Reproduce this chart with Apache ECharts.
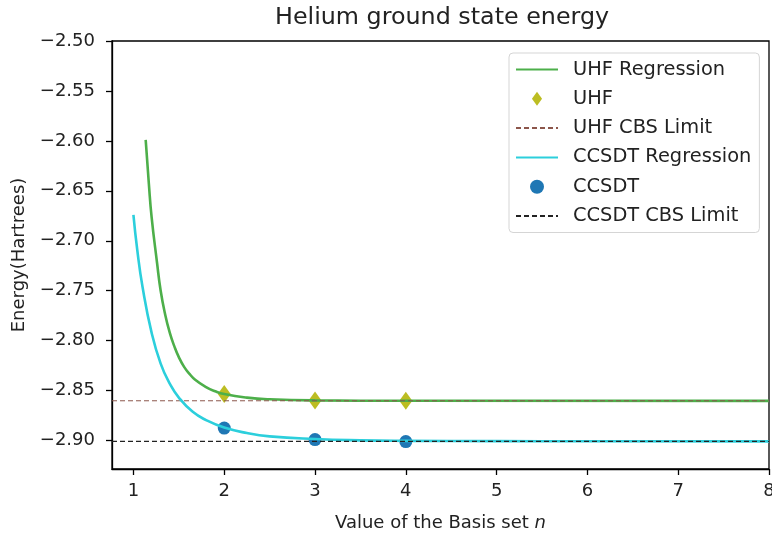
<!DOCTYPE html>
<html>
<head>
<meta charset="utf-8">
<script src="https://cdn.jsdelivr.net/npm/echarts@6.0.0/dist/echarts.min.js"></script>
<style>
  html, body { margin: 0; padding: 0; background: #fff; }
  #chartDiv { width: 772px; height: 533px; }
</style>
</head>
<body>
<div id="chartDiv"></div>
<script>
// 基组 n 与能量（Hartree）
const basisN = [2, 3, 4];
const uhfEnergy = [-2.8535, -2.8600, -2.8602];
const ccsdtEnergy = [-2.8875, -2.8990, -2.9010];
const uhfCbs = -2.8602;
const ccsdtCbs = -2.9008;

// 回归曲线上读出的点
const uhfFitN = [1.135, 1.17, 1.2, 1.26, 1.3, 1.35, 1.4, 1.45, 1.5, 1.56, 1.62, 1.68, 1.8, 1.9, 2.0, 2.25, 2.5, 3.0, 4.0, 8.0];
const uhfFitE = [-2.599, -2.643, -2.676, -2.722, -2.750, -2.774, -2.792, -2.8055, -2.8165, -2.8265, -2.8335, -2.8392, -2.8465, -2.8507, -2.8535, -2.857, -2.8587, -2.8598, -2.8602, -2.8603];
const ccsdtFitN = [1.0, 1.042, 1.1, 1.2, 1.3, 1.4, 1.5, 1.65, 1.8, 2.0, 2.25, 2.5, 3.0, 3.5, 4.0, 5.0, 6.0, 8.0];
const ccsdtFitE = [-2.674, -2.709, -2.746, -2.792, -2.823, -2.843, -2.857, -2.871, -2.8795, -2.8870, -2.8925, -2.8958, -2.8985, -2.8998, -2.9003, -2.9006, -2.9007, -2.9008];

// 坐标轴
const xMin = 0.764, xMax = 8;
const yMin = -2.9285, yMax = -2.50;
const xTicks = [1, 2, 3, 4, 5, 6, 7, 8];
const yTicks = [-2.90, -2.85, -2.80, -2.75, -2.70, -2.65, -2.60, -2.55, -2.50];

const font = 'DejaVu Sans';
const zip = (a, b) => a.map((v, i) => [v, b[i]]);

let myChart = echarts.init(document.getElementById('chartDiv'));

let axisCommon = {
    type: 'value',
    axisLine: { show: true, lineStyle: { color: '#000', width: 1.3 } },
    axisTick: { show: true, length: 6, lineStyle: { color: '#000', width: 1.3 } },
    splitLine: { show: false },
    nameLocation: 'middle',
    nameTextStyle: { fontFamily: font, fontSize: 18, color: '#222' }
};

// 图例里线条不画中间的点
const noDot = { opacity: 0 };

let option = {
    backgroundColor: '#fff',
    animation: false,
    title: {
        text: 'Helium ground state energy',
        left: 275,
        top: 6,
        padding: 0,
        textStyle: { fontFamily: font, fontSize: 23.8, fontWeight: 'normal', color: '#222' }
    },
    grid: {
        left: 112, top: 41, right: 3, bottom: 64,
        outerBoundsMode: 'none',
        show: true, borderColor: '#000', borderWidth: 1.3
    },
    xAxis: Object.assign({}, axisCommon, {
        min: xMin, max: xMax,
        name: 'Value of the Basis set {i|n}',
        nameGap: 45,
        nameTextStyle: Object.assign({}, axisCommon.nameTextStyle, {
            rich: { i: { fontFamily: font, fontSize: 18, fontStyle: 'italic', color: '#222' } }
        }),
        axisTick: Object.assign({}, axisCommon.axisTick, { customValues: xTicks }),
        axisLabel: {
            customValues: xTicks, margin: 13,
            fontFamily: font, fontSize: 18, color: '#222'
        }
    }),
    yAxis: Object.assign({}, axisCommon, {
        min: yMin, max: yMax,
        name: 'Energy(Hartrees)',
        nameGap: 84,
        axisTick: Object.assign({}, axisCommon.axisTick, { customValues: yTicks }),
        axisLabel: {
            customValues: yTicks, margin: 17,
            fontFamily: font, fontSize: 18, color: '#222',
            formatter: v => '\u2212' + Math.abs(v).toFixed(2)
        }
    }),
    legend: {
        orient: 'vertical',
        left: 509, top: 53,
        padding: [7, 8, 7, 6],
        itemGap: 10.3,
        itemWidth: 42,
        itemHeight: 14,
        borderColor: '#d5d5d5', borderWidth: 1, borderRadius: 4,
        backgroundColor: 'rgba(255,255,255,0.85)',
        textStyle: { fontFamily: font, fontSize: 19.4, color: '#222', padding: [0, 0, 0, 10] },
        data: [
            { name: 'UHF Regression', itemStyle: noDot },
            { name: 'UHF', icon: 'path://M6.5,0L13,9L6.5,18L0,9Z' },
            { name: 'UHF CBS Limit', itemStyle: noDot },
            { name: 'CCSDT Regression', itemStyle: noDot },
            { name: 'CCSDT', icon: 'circle' },
            { name: 'CCSDT CBS Limit', itemStyle: noDot }
        ]
    },
    series: [
        {
            name: 'UHF Regression', type: 'line',
            data: zip(uhfFitN, uhfFitE),
            symbol: 'none', smooth: true,
            lineStyle: { color: '#4daf4a', width: 2.6 },
            itemStyle: { color: '#4daf4a' }
        },
        {
            name: 'UHF', type: 'scatter',
            data: zip(basisN, uhfEnergy),
            symbol: 'diamond', symbolSize: [13, 18],
            itemStyle: { color: '#bcbd22', opacity: 1 }
        },
        {
            name: 'UHF CBS Limit', type: 'line',
            data: [[xMin, uhfCbs], [xMax, uhfCbs]],
            symbol: 'none',
            lineStyle: { color: '#8c564b', width: 1, type: [5, 3] },
            itemStyle: { color: '#8c564b' }
        },
        {
            name: 'CCSDT Regression', type: 'line',
            data: zip(ccsdtFitN, ccsdtFitE),
            symbol: 'none', smooth: true,
            lineStyle: { color: '#2ccfdc', width: 2.6 },
            itemStyle: { color: '#2ccfdc' }
        },
        {
            name: 'CCSDT', type: 'scatter',
            data: zip(basisN, ccsdtEnergy),
            symbol: 'circle', symbolSize: 13,
            itemStyle: { color: '#1f77b4', opacity: 1 }
        },
        {
            name: 'CCSDT CBS Limit', type: 'line',
            data: [[xMin, ccsdtCbs], [xMax, ccsdtCbs]],
            symbol: 'none',
            lineStyle: { color: '#222', width: 1.4, type: [5, 3] },
            itemStyle: { color: '#222' }
        }
    ]
};
myChart.setOption(option);
window.onresize = myChart.resize;
</script>
</body>
</html>
